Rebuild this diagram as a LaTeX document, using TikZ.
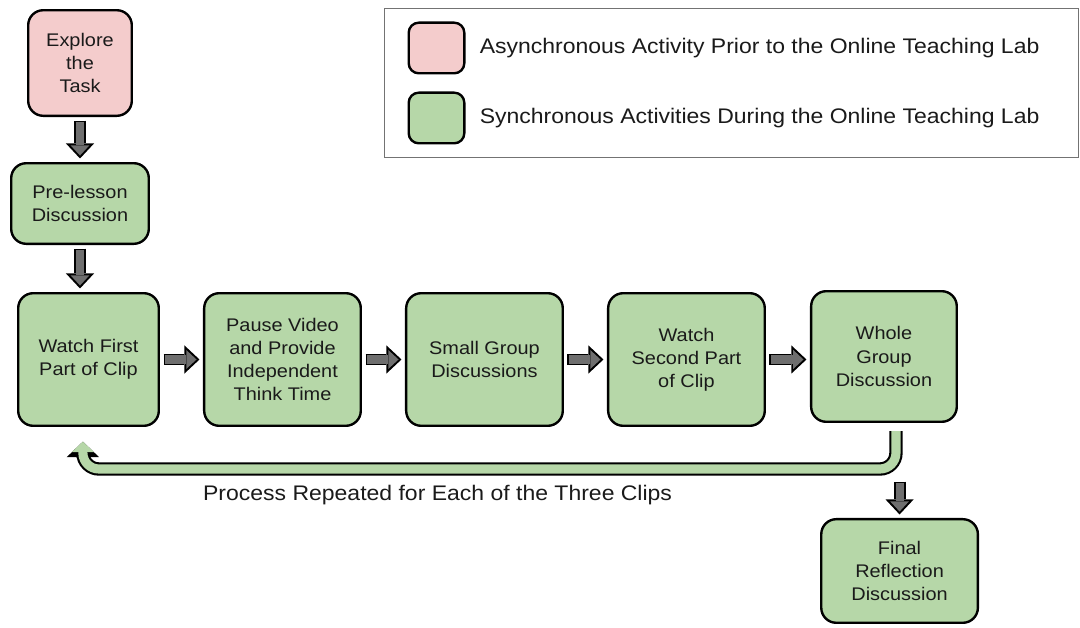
\documentclass[tikz,border=0pt]{standalone}
\usepackage{fontspec}
\setmainfont{Liberation Sans}[FakeStretch=1.09]
\usepackage{tikz}
\usetikzlibrary{arrows.meta,positioning,calc}
\definecolor{SyncGreen}{HTML}{B6D7A8}
\definecolor{AsyncPink}{HTML}{F4CCCC}
\definecolor{ArrowGray}{HTML}{6E6E6E}
\definecolor{TextGray}{HTML}{1A1A1A}
\tikzset{
  lab/box/.style={draw, line width=1.7pt, rounded corners=0.375cm, align=center, inner sep=2pt, text=TextGray, font=\fontsize{13}{16.4}\selectfont},
  lab/sync/.style={lab/box, fill=SyncGreen},
  lab/async/.style={lab/box, fill=AsyncPink},
  lab/clip/.style={lab/sync, minimum width=3.915cm, minimum height=3.315cm},
  lab/arrow/.style={draw=ArrowGray, line width=5.7pt, -{Triangle[length=7.3pt,width=13.5pt,line width=0pt]}, shorten <=3.9pt, shorten >=4.6pt,
    preaction={draw=black, line width=8.5pt, -{Triangle[length=10.7pt,width=20pt,line width=0pt]}, shorten <=2.5pt, shorten >=2.5pt}},
  lab/loop/.style={draw=SyncGreen, line width=6.5pt, rounded corners=0.4cm, -{Triangle[length=7.5pt,width=16pt,line width=0pt]}, shorten <=1.5pt, shorten >=1.9pt,
    preaction={draw=black, line width=9.5pt, rounded corners=0.4cm, -{Triangle[length=11pt,width=23pt,line width=0pt]}}},
  lab/legend/.style={draw=black!55, line width=0.7pt, minimum width=17.35cm, minimum height=3.7cm},
  lab/key/.style={draw, line width=1.7pt, rounded corners=0.25cm, minimum width=1.39cm, minimum height=1.265cm},
  lab/keytext/.style={inner sep=0pt, text=TextGray, font=\fontsize{15}{18}\selectfont},
}

\begin{document}
\begin{tikzpicture}[node distance=1.075cm]
  \path[use as bounding box, fill=white] (0,0) rectangle (27,15.675);

  % clip cycle
  \node[lab/clip, minimum width=3.515cm] (watch1) at (2.2125,6.6875) {Watch First\\Part of Clip};
  \node[lab/clip, right=of watch1] (pause) {Pause Video\\and Provide\\Independent\\Think Time};
  \node[lab/clip, right=of pause] (small) {Small Group\\Discussions};
  \node[lab/clip, right=of small] (second) {Watch\\Second Part\\of Clip};
  \node[lab/sync, minimum width=3.64cm, minimum height=3.265cm, right=1.1cm of second, yshift=0.075cm] (whole) {Whole\\Group\\Discussion};

  % before and after
  \node[lab/sync, minimum width=3.44cm, minimum height=2.015cm, above=1.175cm of watch1, xshift=-0.2125cm] (pre) {Pre-lesson\\Discussion};
  \node[lab/async, minimum width=2.59cm, minimum height=2.64cm, above=1.125cm of pre] (explore) {Explore\\the\\Task};
  \node[lab/sync, minimum width=3.915cm, minimum height=2.59cm, below=2.375cm of whole, xshift=0.39cm] (final) {Final\\Reflection\\Discussion};

  \draw[lab/arrow] (explore) -- (pre);
  \draw[lab/arrow] (pre.south) -- (pre.south |- watch1.north);
  \draw[lab/arrow] (watch1) -- (pause);
  \draw[lab/arrow] (pause) -- (small);
  \draw[lab/arrow] (small) -- (second);
  \draw[lab/arrow] (second.east) -- (second.east -| whole.west);
  \draw[lab/arrow] ($(final.north |- whole.south)+(0,-1.375cm)$) -- (final.north);

  % repeat loop
  \draw[lab/loop] ([xshift=0.3cm,yshift=-0.15cm]whole.south) -- ([xshift=0.3cm,yshift=-1.15cm]whole.south)
    -- ([xshift=-0.14cm,yshift=-1.05cm]watch1.south) -- ([xshift=-0.14cm,yshift=-0.3cm]watch1.south);
  \node[lab/keytext] (repeat) at (10.94,3.3) {Process Repeated for Each of the Three Clips};

  % legend
  \node[lab/legend] (legend) at (18.275,13.6) {};
  \node[lab/key, fill=AsyncPink, below right=0.325cm and 0.6cm of legend.north west] (keyasync) {};
  \node[lab/key, fill=SyncGreen, below=0.425cm of keyasync] (keysync) {};
  \node[lab/keytext, right=0.35cm of keyasync] (txtasync) {Asynchronous Activity Prior to the Online Teaching Lab};
  \node[lab/keytext, right=0.35cm of keysync] (txtsync) {Synchronous Activities During the Online Teaching Lab};
\end{tikzpicture}
\end{document}
